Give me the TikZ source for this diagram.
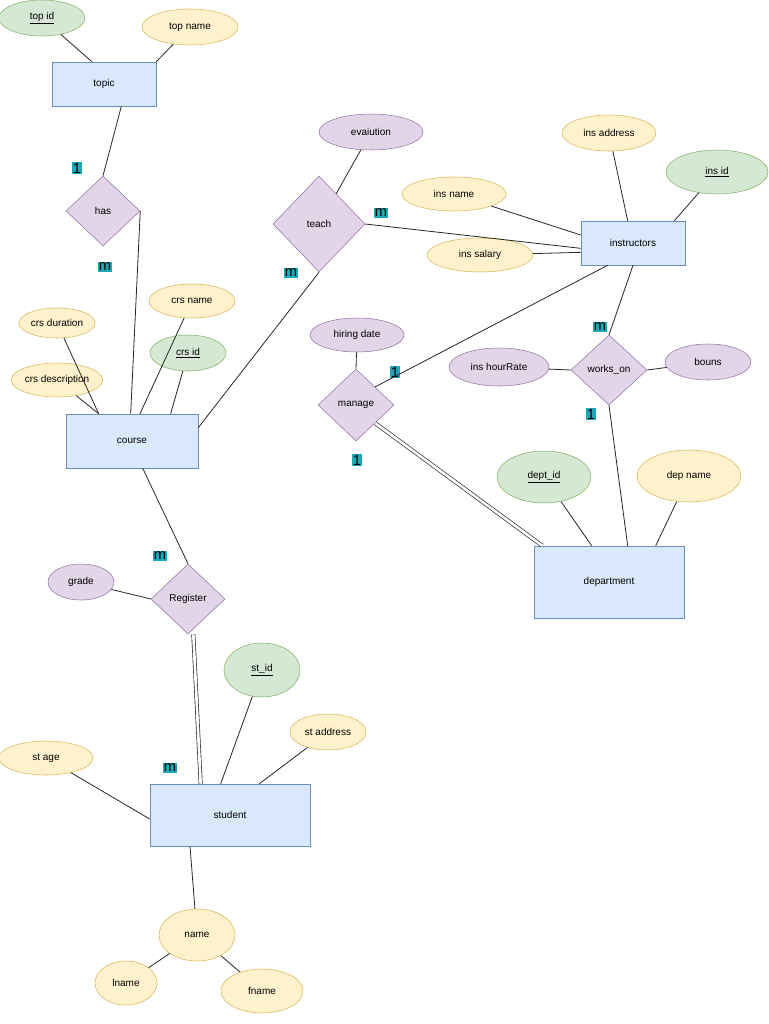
\documentclass[tikz,border=0pt]{standalone}
\usepackage{fontspec}
\setmainfont{Liberation Sans}
\usetikzlibrary{shapes.geometric}
\definecolor{bF}{HTML}{DAE8FC}\definecolor{bD}{HTML}{6C8EBF}
\definecolor{yF}{HTML}{FFF2CC}\definecolor{yD}{HTML}{D6B656}
\definecolor{gF}{HTML}{D5E8D4}\definecolor{gD}{HTML}{82B366}
\definecolor{pF}{HTML}{E1D5E7}\definecolor{pD}{HTML}{9673A6}
\definecolor{tl}{HTML}{1BA9B8}
\begin{document}
\begin{tikzpicture}[x=0.75pt,y=-0.75pt,font=\fontsize{7.5}{9}\selectfont,
 sz/.style 2 args={minimum width=#1*0.75pt,minimum height=#2*0.75pt},
 ye/.style={ellipse,draw=yD,fill=yF,inner sep=0pt},
 ge/.style={ellipse,draw=gD,fill=gF,inner sep=0pt},
 pe/.style={ellipse,draw=pD,fill=pF,inner sep=0pt},
 rel/.style={diamond,draw=pD,fill=pF,inner sep=0pt,aspect=1},
 card/.style={fill=tl,inner sep=1pt,font=\fontsize{11}{12}\selectfont},
 ln/.style={draw=black!85,line width=0.6pt},
 dbl/.style={draw=black!85,double,double distance=2pt,line width=0.5pt}]
\useasboundingbox (0,0) rectangle (768,1024);
% entities
\node[draw=bD,fill=bF,sz={104}{44}] (topic) at (104,84) {topic};
\node[draw=bD,fill=bF,sz={104}{44}] (ins) at (633,243) {instructors};
\node[draw=bD,fill=bF,sz={132}{54}] (course) at (132,441) {course};
\node[draw=bD,fill=bF,sz={150}{72}] (dep) at (609,582) {department};
\node[draw=bD,fill=bF,sz={160}{62}] (stu) at (230,815) {student};
% relations
\node[rel,sz={74}{70}] (has) at (103,211) {has};
\node[rel,sz={92}{96}] (teach) at (319,224) {teach};
\node[rel,sz={76}{72}] (manage) at (356,405) {manage};
\node[rel,sz={76}{70}] (works) at (609,370) {works\_on};
\node[rel,sz={74}{70}] (reg) at (188,599) {Register};
% attributes
\node[ge,sz={86}{36}] (topid) at (42,18) {\underline{top id}};
\node[ye,sz={96}{36}] (topname) at (190,27) {top name};
\node[pe,sz={104}{36}] (eval) at (371,132) {evaiution};
\node[ye,sz={94}{36}] (insaddr) at (609,133) {ins address};
\node[ge,sz={102}{44}] (insid) at (717,172) {\underline{ins id}};
\node[ye,sz={104}{34}] (insname) at (454,194) {ins name};
\node[ye,sz={106}{34}] (inssal) at (480,255) {ins salary};
\node[ye,sz={86}{34}] (crsname) at (192,301) {crs name};
\node[ye,sz={76}{30}] (crsdur) at (57,323) {crs duration};
\node[ge,sz={76}{36}] (crsid) at (188,353) {\underline{crs id}};
\node[ye,sz={78}{34}] (crsdesc) at (57,380) {crs description};
\node[pe,sz={94}{34}] (hire) at (357,335) {hiring date};
\node[pe,sz={100}{38}] (hour) at (499,367) {ins hourRate};
\node[pe,sz={86}{36}] (bouns) at (708,362) {bouns};
\node[ge,sz={94}{52}] (deptid) at (544,477) {\underline{dept\_id}};
\node[ye,sz={104}{52}] (depname) at (689,476) {dep name};
\node[pe,sz={66}{36}] (grade) at (81,582) {grade};
\node[ge,sz={76}{54}] (stid) at (262,670) {\underline{st\_id}};
\node[ye,sz={76}{36}] (staddr) at (328,732) {st address};
\node[ye,sz={94}{34}] (stage) at (46,758) {st age};
\node[ye,sz={76}{52}] (name) at (197,935) {name};
\node[ye,sz={62}{44}] (lname) at (126,983) {lname};
\node[ye,sz={82}{44}] (fname) at (262,991) {fname};
% cardinalities
\node[card] (c1) at (77,168) {1};
\node[card] (c2) at (105,267) {m};
\node[card] (c3) at (381,213) {m};
\node[card] (c4) at (291,273) {m};
\node[card] (c5) at (395,372) {1};
\node[card] (c6) at (357,460) {1};
\node[card] (c7) at (600,327) {m};
\node[card] (c8) at (591,414) {1};
\node[card] (c9) at (160,556) {m};
\node[card] (c10) at (170,768) {m};
% connectors
\draw[ln] (topid) -- ([xshift=-9pt]topic.north);
\draw[ln] (topname) -- (topic.north east);
\draw[ln] ([xshift=13pt]topic.south) -- (has.north);
\draw[ln] (has.east) -- ([xshift=-1pt]course.north);
\draw[ln] (crsdur) -- ([xshift=-25pt]course.north);
\draw[ln] (crsdesc) -- ([xshift=-25pt]course.north);
\draw[ln] (crsname) -- ([xshift=6pt]course.north);
\draw[ln] (crsid) -- ([xshift=29pt]course.north);
\draw[ln] ([yshift=10pt]course.east) -- (teach.south);
\draw[ln] (teach) -- (eval);
\draw[ln] (teach.east) -- ([yshift=-4pt]ins.west);
\draw[ln] (insname) -- ([yshift=6pt]ins.west);
\draw[ln] (inssal) -- ([yshift=-7pt]ins.west);
\draw[ln] (insaddr) -- ([xshift=-4pt]ins.north);
\draw[ln] (insid) -- ([xshift=31pt]ins.north);
\draw[ln] ([xshift=-19pt]ins.south) -- (manage.north east);
\draw[ln] (ins.south) -- (works.north);
\draw[ln] (hire) -- (manage.north);
\draw[ln] (hour) -- (works.west);
\draw[ln] (works.east) -- (bouns);
\draw[ln] (works.south) -- ([xshift=14pt]dep.north);
\draw[dbl] (manage.south east) -- ([xshift=-50pt]dep.north);
\draw[ln] (deptid) -- ([xshift=-13pt]dep.north);
\draw[ln] (depname) -- ([xshift=35pt]dep.north);
\draw[ln] ([xshift=8pt]course.south) -- (reg.north);
\draw[ln] (grade) -- (reg.west);
\draw[dbl] ([xshift=4pt]reg.south) -- ([xshift=-22pt]stu.north);
\draw[ln] (stid) -- ([xshift=-7pt]stu.north);
\draw[ln] (staddr) -- ([xshift=22pt]stu.north);
\draw[ln] (stage) -- ([yshift=-3pt]stu.west);
\draw[ln] ([xshift=-30pt]stu.south) -- (name);
\draw[ln] (name) -- (lname);
\draw[ln] (name) -- (fname);
\end{tikzpicture}
\end{document}
